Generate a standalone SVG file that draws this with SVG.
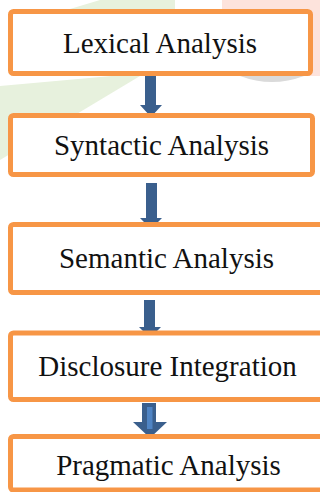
<svg xmlns="http://www.w3.org/2000/svg" width="320" height="492" viewBox="0 0 320 492">
  <defs>
    <style>
      .box { fill: #ffffff; stroke: #F79646; stroke-width: 5; }
      .lbl { font-family: 'Liberation Serif', 'DejaVu Serif', serif; font-size: 29px; fill: #111111; text-anchor: middle; }
      .arrow { fill: #3A5F8D; }
      .wm-green { fill: #E7F1DD; }
      .wm-pink { fill: #FDE3DC; }
    </style>
  </defs>
  <rect width="320" height="492" fill="#ffffff"/>
  <g id="watermark">
    <polygon class="wm-green" points="0,86 145,73 0,160"/>
    <polygon class="wm-green" points="60,12 100,0 175,0 175,12"/>
    <rect class="wm-pink" x="222" y="0" width="98" height="76"/>
    <path d="M240,76 Q272,88 304,76 Z" fill="#DADADA"/>
  </g>
  <g id="connectors">
    <path class="arrow" d="M145,73 H156 V105 H162 L151,117 L140,105 H145 Z"/>
    <path class="arrow" d="M146,183 H157 V218 H162 L151,229 L140,218 H146 Z"/>
    <path class="arrow" d="M144,300 H155 V327 H161 L150,338 L139,327 H144 Z"/>
    <path class="arrow" d="M142,403 H156 V422 H167 L150,438 L133,422 H142 Z"/>
    <rect x="147" y="407" width="5.5" height="22" fill="#4F84C4"/>
  </g>
  <g id="node-lexical">
    <rect class="box" x="10.5" y="11.5" width="300" height="62" rx="3"/>
    <text class="lbl" x="160" y="53" font-family="Liberation Serif, serif">Lexical Analysis</text>
  </g>
  <g id="node-syntactic">
    <rect class="box" x="10.5" y="115.5" width="302" height="59" rx="3"/>
    <text class="lbl" x="161.5" y="155" font-family="Liberation Serif, serif">Syntactic Analysis</text>
  </g>
  <g id="node-semantic">
    <rect class="box" x="10.5" y="224.5" width="318" height="68" rx="3"/>
    <text class="lbl" x="166.5" y="268" font-family="Liberation Serif, serif">Semantic Analysis</text>
  </g>
  <g id="node-disclosure">
    <rect class="box" x="10.5" y="333" width="318" height="66.5" rx="3"/>
    <text class="lbl" x="167.5" y="376" font-family="Liberation Serif, serif">Disclosure Integration</text>
  </g>
  <g id="node-pragmatic">
    <rect class="box" x="10.5" y="436.5" width="318" height="53.5" rx="3"/>
    <text class="lbl" x="168.5" y="475" font-family="Liberation Serif, serif">Pragmatic Analysis</text>
  </g>
</svg>
